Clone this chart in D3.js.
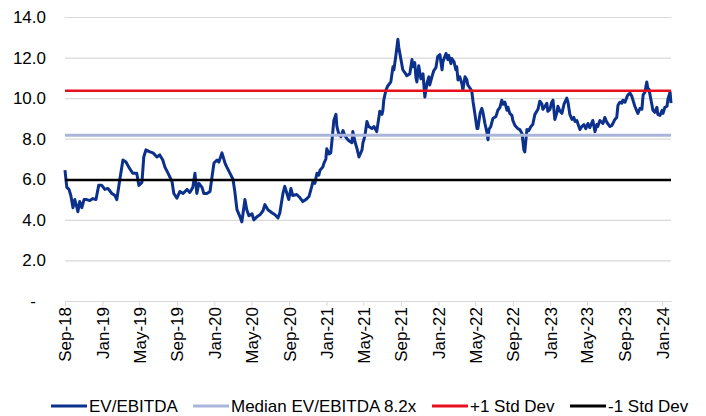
<!DOCTYPE html>
<html>
<head>
<meta charset="utf-8">
<script src="https://cdn.jsdelivr.net/npm/d3@7"></script>
<style>
  body { margin: 0; background: #fff; }
  text { font-family: Arial, "Liberation Sans", sans-serif; fill: #000; }
</style>
</head>
<body>
<svg id="chart" width="706" height="416"></svg>
<script>
(function(){
    'use strict';

    // EV/EBITDA
    var dates = [
        '2018-09-01','2018-09-04','2018-09-07','2018-09-14','2018-09-20','2018-09-27','2018-10-03','2018-10-10','2018-10-13','2018-10-19',
        '2018-10-26','2018-11-02','2018-11-11','2018-11-21','2018-12-01','2018-12-11','2018-12-20','2018-12-30','2019-01-09','2019-01-19',
        '2019-02-01','2019-02-11','2019-02-17','2019-02-27','2019-03-09','2019-03-19','2019-03-28','2019-04-10','2019-04-23','2019-04-30',
        '2019-05-10','2019-05-16','2019-05-23','2019-06-05','2019-06-15','2019-06-28','2019-07-07','2019-07-17','2019-07-24','2019-08-03',
        '2019-08-16','2019-08-22','2019-09-01','2019-09-11','2019-09-21','2019-10-04','2019-10-13','2019-10-23','2019-10-30','2019-11-05',
        '2019-11-12','2019-11-22','2019-11-28','2019-12-08','2019-12-18','2019-12-24','2019-12-31','2020-01-10','2020-01-16','2020-01-26',
        '2020-02-05','2020-02-11','2020-02-21','2020-03-02','2020-03-08','2020-03-15','2020-03-25','2020-03-31','2020-04-10','2020-04-16',
        '2020-04-23','2020-05-03','2020-05-09','2020-05-19','2020-05-29','2020-06-08','2020-06-14','2020-06-24','2020-07-07','2020-07-17',
        '2020-07-27','2020-08-02','2020-08-12','2020-08-18','2020-08-25','2020-08-31','2020-09-07','2020-09-13','2020-09-26','2020-10-06',
        '2020-10-16','2020-10-26','2020-11-05','2020-11-14','2020-11-18','2020-11-24','2020-12-01','2020-12-07','2020-12-11','2020-12-20',
        '2020-12-24','2020-12-30','2021-01-02','2021-01-09','2021-01-15','2021-01-19','2021-01-25','2021-02-01','2021-02-04','2021-02-10',
        '2021-02-17','2021-02-24','2021-03-02','2021-03-09','2021-03-15','2021-03-25','2021-03-28','2021-04-04','2021-04-10','2021-04-17',
        '2021-04-27','2021-04-30','2021-05-06','2021-05-13','2021-05-19','2021-05-29','2021-06-05','2021-06-14','2021-06-18','2021-06-24',
        '2021-07-01','2021-07-04','2021-07-07','2021-07-14','2021-07-20','2021-07-30','2021-08-06','2021-08-09','2021-08-15','2021-08-22',
        '2021-08-25','2021-09-01','2021-09-07','2021-09-14','2021-09-20','2021-09-30','2021-10-07','2021-10-10','2021-10-16','2021-10-20',
        '2021-10-23','2021-10-29','2021-11-05','2021-11-12','2021-11-15','2021-11-18','2021-11-25','2021-12-01','2021-12-04','2021-12-11',
        '2021-12-17','2021-12-24','2021-12-30','2022-01-06','2022-01-13','2022-01-16','2022-01-26','2022-02-01','2022-02-04','2022-02-11',
        '2022-02-14','2022-02-21','2022-02-27','2022-03-02','2022-03-06','2022-03-12','2022-03-19','2022-03-22','2022-03-29','2022-04-04',
        '2022-04-07','2022-04-14','2022-04-20','2022-04-24','2022-04-30','2022-05-07','2022-05-10','2022-05-17','2022-05-23','2022-05-27',
        '2022-06-02','2022-06-08','2022-06-12','2022-06-15','2022-06-21','2022-06-28','2022-07-08','2022-07-14','2022-07-21','2022-07-27',
        '2022-07-31','2022-08-06','2022-08-13','2022-08-16','2022-08-22','2022-08-29','2022-09-01','2022-09-08','2022-09-17','2022-09-24',
        '2022-10-01','2022-10-07','2022-10-10','2022-10-14','2022-10-17','2022-10-23','2022-10-30','2022-11-05','2022-11-12','2022-11-18',
        '2022-11-22','2022-11-28','2022-12-05','2022-12-08','2022-12-15','2022-12-21','2022-12-24','2022-12-31','2023-01-06','2023-01-10',
        '2023-01-16','2023-01-23','2023-01-26','2023-02-02','2023-02-08','2023-02-15','2023-02-24','2023-02-28','2023-03-06','2023-03-13',
        '2023-03-19','2023-03-23','2023-03-29','2023-04-01','2023-04-08','2023-04-14','2023-04-21','2023-04-27','2023-05-04','2023-05-10',
        '2023-05-20','2023-05-27','2023-06-02','2023-06-05','2023-06-12','2023-06-22','2023-06-28','2023-07-05','2023-07-15','2023-07-21',
        '2023-07-31','2023-08-06','2023-08-10','2023-08-16','2023-08-23','2023-08-26','2023-09-02','2023-09-08','2023-09-11','2023-09-18',
        '2023-09-24','2023-09-28','2023-10-04','2023-10-11','2023-10-14','2023-10-21','2023-10-27','2023-10-31','2023-11-06','2023-11-12',
        '2023-11-16','2023-11-19','2023-11-22','2023-11-29','2023-12-02','2023-12-08','2023-12-15','2023-12-18','2023-12-25','2024-01-01',
        '2024-01-04','2024-01-10','2024-01-17','2024-01-20','2024-01-27','2024-01-30'
    ];
    var evEbitda = [
        6.45,6.0,5.6,5.5,5.2,4.6,5.0,4.6,4.4,4.9,
        4.6,5.0,5.0,4.95,5.05,5.0,5.7,5.7,5.5,5.55,
        5.3,5.2,5.0,6.0,6.95,6.85,6.6,6.3,6.3,5.7,
        5.85,7.1,7.45,7.35,7.3,7.1,7.2,6.95,6.6,6.3,
        5.9,5.3,5.07,5.4,5.3,5.5,5.35,5.6,6.3,5.3,
        5.8,5.6,5.3,5.3,5.4,6.05,6.8,6.95,6.85,7.3,
        6.8,6.6,6.3,6.0,5.4,4.5,4.15,3.9,5.0,4.5,
        4.2,4.3,4.0,4.15,4.25,4.45,4.75,4.5,4.35,4.25,
        4.1,4.35,5.3,5.65,5.3,5.0,5.55,5.2,5.25,5.1,
        4.9,5.0,5.15,5.65,5.9,5.8,6.3,6.2,6.45,6.6,
        6.8,7.0,7.5,7.25,7.3,7.9,8.9,9.2,8.6,8.25,
        8.1,8.4,8.15,8.0,7.9,7.8,8.35,7.85,7.55,7.1,
        7.45,7.8,8.1,8.85,8.6,8.5,8.6,8.35,8.75,9.35,
        9.2,9.4,9.9,10.4,10.6,10.8,11.55,11.4,12.05,12.9,
        12.5,11.9,11.4,11.25,11.1,11.2,11.9,11.55,11.75,11.0,
        10.8,11.6,10.95,11.2,10.6,10.05,10.75,11.05,10.65,11.05,
        11.35,11.5,12.05,12.15,11.4,11.8,12.2,11.9,12.1,11.7,
        11.95,11.8,11.4,11.55,10.9,11.05,10.7,10.4,11.05,10.9,
        10.65,10.5,10.35,9.85,9.25,8.5,8.5,9.25,9.5,9.25,
        8.75,8.35,7.95,8.45,8.6,9.0,9.1,9.4,9.55,9.9,
        9.7,9.8,9.4,9.55,9.25,9.15,8.9,8.65,8.5,8.45,
        8.25,7.45,7.35,8.0,8.45,8.4,8.6,8.7,9.2,9.35,
        9.45,9.85,9.7,9.45,9.6,9.75,9.35,9.45,9.8,9.9,
        8.95,9.3,9.6,9.35,9.25,9.7,10.0,9.8,9.2,8.95,
        9.05,8.85,8.9,8.75,8.45,8.6,8.7,8.5,8.75,8.55,
        8.9,8.35,8.7,8.6,8.9,8.75,9.05,8.8,8.6,8.65,
        8.95,9.05,9.65,9.8,9.75,9.9,9.8,10.05,10.15,10.25,
        10.1,9.9,9.6,9.35,9.25,9.5,9.45,10.15,10.3,10.8,
        10.4,10.45,10.2,9.65,9.4,9.3,9.55,9.2,9.15,9.4,
        9.25,9.55,9.6,9.95,10.3,9.75
    ];

    var medianValue = 8.17;
    var plusStdDev = 10.37;
    var minusStdDev = 5.97;

    var yTicks = [0, 2, 4, 6, 8, 10, 12, 14];
    var xTickDates = ['2018-09-01','2019-01-01','2019-05-01','2019-09-01','2020-01-01','2020-05-01',
        '2020-09-01','2021-01-01','2021-05-01','2021-09-01','2022-01-01','2022-05-01','2022-09-01',
        '2023-01-01','2023-05-01','2023-09-01','2024-01-01'];

    var legendLabels = ['EV/EBITDA', 'Median EV/EBITDA 8.2x', '+1 Std Dev', '-1 Std Dev'];
    var colors = ['#0c318c', '#a9b5da', '#e8101e', '#000000'];

    var parse = d3.timeParse('%Y-%m-%d');
    var margin = {top: 17, left: 65, right: 35, bottom: 115};
    var width = 706, height = 416;

    var svg = d3.select('#chart');

    var series = dates.map(function(d, i) { return {date: parse(d), value: evEbitda[i]}; });

    var x = d3.scaleTime()
        .domain([parse('2018-09-01'), parse('2024-01-30')])
        .range([margin.left, width - margin.right]);
    var y = d3.scaleLinear().domain([0, 14]).range([height - margin.bottom, margin.top]);

    // gridlines + y labels
    var yAxis = svg.append('g').attr('class', 'y-axis')
        .attr('transform', 'translate(' + margin.left + ',0)')
        .call(d3.axisLeft(y).tickValues(yTicks)
            .tickSize(-(width - margin.left - margin.right))
            .tickPadding(19)
            .tickFormat(function(d) { return d === 0 ? '-' : d3.format('.1f')(d); }));
    yAxis.select('.domain').remove();
    yAxis.selectAll('.tick line').attr('stroke', '#d9d9d9').attr('stroke-width', 1.2);
    yAxis.selectAll('.tick text')
        .style('font-size', '17px')
        .attr('dx', function(d) { return d === 0 ? -10 : 0; });

    // x axis
    var xAxis = svg.append('g').attr('class', 'x-axis')
        .attr('transform', 'translate(0,' + y(0) + ')')
        .call(d3.axisBottom(x).tickValues(xTickDates.map(parse))
            .tickSize(5).tickSizeOuter(0)
            .tickFormat(d3.timeFormat('%b-%y')));
    xAxis.select('.domain').attr('stroke', '#d9d9d9').attr('stroke-width', 1.2);
    xAxis.selectAll('.tick line').attr('stroke', '#d9d9d9');
    xAxis.selectAll('.tick text')
        .style('font-size', '17px')
        .attr('text-anchor', 'end')
        .attr('transform', 'rotate(-90)')
        .attr('x', -6).attr('y', 0).attr('dy', '0.35em');

    // main series
    var line = d3.line()
        .x(function(d) { return x(d.date); })
        .y(function(d) { return y(d.value); });

    svg.append('path').datum(series)
        .attr('fill', 'none')
        .attr('stroke', colors[0])
        .attr('stroke-width', 3)
        .attr('stroke-linejoin', 'round')
        .attr('d', line);

    // reference lines
    var refs = [
        {value: medianValue, color: colors[1], w: 3},
        {value: plusStdDev, color: colors[2], w: 2.5},
        {value: minusStdDev, color: colors[3], w: 2.5}
    ];
    svg.selectAll('.ref').data(refs).enter().append('line')
        .attr('class', 'ref')
        .attr('x1', x.range()[0]).attr('x2', x.range()[1])
        .attr('y1', function(d) { return y(d.value); })
        .attr('y2', function(d) { return y(d.value); })
        .attr('stroke', function(d) { return d.color; })
        .attr('stroke-width', function(d) { return d.w; });

    // legend
    var legendX = [51, 193, 432, 570];
    var legend = svg.append('g').attr('class', 'legend').attr('transform', 'translate(0,406)');
    var items = legend.selectAll('g').data(legendLabels).enter().append('g')
        .attr('transform', function(d, i) { return 'translate(' + legendX[i] + ',0)'; });
    items.append('line')
        .attr('x1', 0).attr('x2', 36).attr('y1', 0).attr('y2', 0)
        .attr('stroke', function(d, i) { return colors[i]; })
        .attr('stroke-width', 3);
    items.append('text')
        .attr('x', 38).attr('dy', '0.35em')
        .style('font-size', '17px')
        .text(function(d) { return d; });
})();
</script>
</body>
</html>
